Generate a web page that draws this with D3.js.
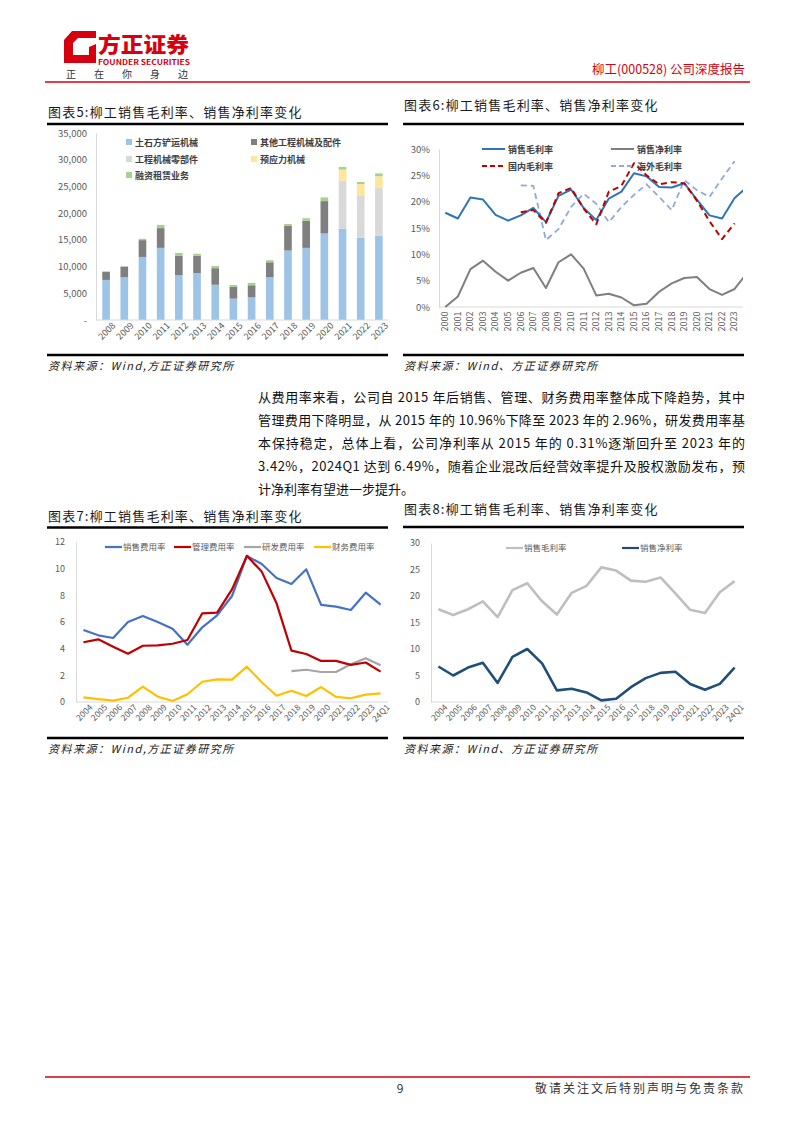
<!DOCTYPE html>
<html><head><meta charset="utf-8">
<script src="https://cdn.jsdelivr.net/npm/d3@7"></script>
<style>
body{margin:0;background:#fff;}
svg{display:block;}
text{font-family:"Noto Sans CJK SC","Noto Sans",sans-serif;}
</style></head>
<body>
<svg id="page" width="794" height="1123"></svg>
<script>
// ---------- DATA ----------
// Chart 5
const c5Years = ["2008","2009","2010","2011","2012","2013","2014","2015","2016","2017","2018","2019","2020","2021","2022","2023"];
const c5Earth   = [7500,8000,11800,13500,8400,8800,6600,4000,4250,8000,13000,13500,16200,17100,15400,15800];
const c5Other   = [1550,2000,3150,3700,3600,3200,3100,2200,2250,2800,4600,5050,6050,0,0,0];
const c5Parts   = [0,0,0,0,0,0,0,0,0,0,0,0,0,9000,7950,8900];
const c5Prestress = [0,0,0,0,0,0,0,0,0,0,0,0,0,2050,2100,2200];
const c5Lease   = [0,0,250,600,550,400,400,350,450,380,380,500,700,500,380,550];
const c5Series = ["土石方铲运机械","其他工程机械及配件","工程机械零部件","预应力机械","融资租赁业务"];
const c5Ticks = [0,5000,10000,15000,20000,25000,30000,35000];

// Chart 6
const c6Years = ["2000","2001","2002","2003","2004","2005","2006","2007","2008","2009","2010","2011","2012","2013","2014","2015","2016","2017","2018","2019","2020","2021","2022","2023","24Q1"];
const c6Gross = [17.9,16.8,20.8,20.4,17.5,16.4,17.4,18.8,16.1,21.1,22.3,18.8,16.5,20.6,21.9,25.4,24.8,22.8,22.7,23.5,20.4,17.4,16.8,20.7,22.8];
const c6Net   = [0.0,2.0,7.2,8.8,6.7,5.0,6.5,7.4,3.6,8.5,10.0,7.3,2.2,2.5,1.8,0.31,0.6,2.9,4.5,5.5,5.7,3.4,2.3,3.42,6.49];
const c6Domestic = [null,null,null,null,null,null,18.0,18.4,16.0,21.6,22.6,18.7,15.7,21.9,23.0,27.3,25.0,23.3,23.7,23.5,20.2,16.3,12.9,15.9,null];
const c6Overseas = [null,null,null,null,null,null,23.1,23.0,12.7,14.8,19.0,21.5,19.6,16.1,19.0,21.3,23.3,20.9,18.4,24.1,22.2,20.9,24.4,27.7,null];
const c6Names = ["销售毛利率","销售净利率","国内毛利率","海外毛利率"];
const c6Ticks = [0,5,10,15,20,25,30];

// Chart 7
const c7Cats = ["2004","2005","2006","2007","2008","2009","2010","2011","2012","2013","2014","2015","2016","2017","2018","2019","2020","2021","2022","2023","24Q1"];
const c7Sales = [5.4,5.0,4.8,6.0,6.45,6.0,5.5,4.3,5.6,6.5,7.95,10.95,10.35,9.3,8.85,9.95,7.28,7.15,6.9,8.2,7.3];
const c7Admin = [4.48,4.7,4.15,3.62,4.22,4.25,4.37,4.65,6.65,6.7,8.45,10.96,9.78,7.4,3.85,3.6,3.08,3.08,2.78,2.96,2.28];
const c7RD    = [null,null,null,null,null,null,null,null,null,null,null,null,null,null,2.32,2.42,2.25,2.25,2.83,3.28,2.75];
const c7Fin   = [0.35,0.22,0.1,0.32,1.15,0.4,0.08,0.58,1.52,1.7,1.68,2.65,1.48,0.47,0.85,0.45,1.12,0.38,0.28,0.55,0.65];
const c7Names = ["销售费用率","管理费用率","研发费用率","财务费用率"];
const c7Ticks = [0,2,4,6,8,10,12];

// Chart 8
const c8Cats = c7Cats;
const c8Gross = [17.5,16.4,17.5,19.0,16.0,21.1,22.4,19.0,16.5,20.6,21.9,25.4,24.8,22.9,22.7,23.5,20.5,17.4,16.8,20.7,22.8];
const c8Net   = [6.7,5.0,6.5,7.4,3.6,8.5,10.0,7.3,2.2,2.5,1.8,0.31,0.6,2.8,4.5,5.5,5.7,3.4,2.3,3.42,6.49];
const c8Names = ["销售毛利率","销售净利率"];
const c8Ticks = [0,5,10,15,20,25,30];

const paragraph = [
  "从费用率来看，公司自 2015 年后销售、管理、财务费用率整体成下降趋势，其中",
  "管理费用下降明显，从 2015 年的 10.96%下降至 2023 年的 2.96%，研发费用率基",
  "本保持稳定，总体上看，公司净利率从 2015 年的 0.31%逐渐回升至 2023 年的",
  "3.42%，2024Q1 达到 6.49%，随着企业混改后经营效率提升及股权激励发布，预",
  "计净利率有望进一步提升。"
];

// ---------- DRAW ----------
const svg = d3.select("#page");
const RED = "#D7000F";
const AX = "#595959";

// Header
svg.append("path")
  .attr("d","M64,40 L72,31 L96,31 L96,38 L78,38 L73,43 L73,55 L89,55 L89,47 L96,44 L96,63 L64,63 Z")
  .attr("fill", RED);
svg.append("text").attr("x",98).attr("y",52).attr("font-size",21).attr("font-weight",900)
  .attr("fill",RED).attr("textLength",91).attr("lengthAdjust","spacingAndGlyphs").text("方正证券");
svg.append("text").attr("x",98).attr("y",65).attr("font-size",7).attr("font-weight",700)
  .attr("fill",RED).attr("textLength",92).attr("lengthAdjust","spacingAndGlyphs").text("FOUNDER SECURITIES");
svg.append("text").attr("x",66).attr("y",78).attr("font-size",10).attr("fill","#333")
  .attr("textLength",122).attr("lengthAdjust","spacing").text("正在你身边");
svg.append("text").attr("x",745).attr("y",74).attr("font-size",12.5).attr("fill",RED)
  .attr("text-anchor","end").text("柳工(000528) 公司深度报告");
svg.append("line").attr("x1",45).attr("x2",750).attr("y1",82).attr("y2",82).attr("stroke",RED).attr("stroke-width",1.3);

// Title helper
function title(x, y, ly, x2, label){
  svg.append("text").attr("x",x).attr("y",y).attr("font-size",13).attr("fill","#1a1a1a")
    .attr("letter-spacing",1.2).text(label);
  svg.append("line").attr("x1",x-1).attr("x2",x2).attr("y1",ly).attr("y2",ly)
    .attr("stroke","#000").attr("stroke-width",2.5);
}
function source(x, y, x2, label){
  svg.append("line").attr("x1",x-1).attr("x2",x2).attr("y1",y-15).attr("y2",y-15)
    .attr("stroke","#000").attr("stroke-width",2.5);
  svg.append("text").attr("x",x).attr("y",y).attr("font-size",11).attr("font-style","italic")
    .attr("fill","#1a1a1a").attr("letter-spacing",1.5).text(label);
}

title(48,117,124,388,"图表5:柳工销售毛利率、销售净利率变化");
title(404,110,124,744,"图表6:柳工销售毛利率、销售净利率变化");
title(48,521,527.5,388,"图表7:柳工销售毛利率、销售净利率变化");
title(404,514,527,744,"图表8:柳工销售毛利率、销售净利率变化");
source(48,370,388,"资料来源：Wind,方正证券研究所");
source(404,370,744,"资料来源：Wind、方正证券研究所");
source(48,753,388,"资料来源：Wind,方正证券研究所");
source(404,753,744,"资料来源：Wind、方正证券研究所");

// ---------- Chart 5 ----------
(function(){
  const g = svg.append("g");
  const x = d3.scaleBand().domain(c5Years).range([97,388]).paddingInner(0.58).paddingOuter(0.29);
  const y = d3.scaleLinear().domain([0,35000]).range([320,133]);
  const rows = c5Years.map((yr,i)=>({year:yr, a:c5Earth[i], b:c5Other[i], c:c5Parts[i], d:c5Prestress[i], e:c5Lease[i]}));
  const keys = ["a","b","c","d","e"];
  const colors = ["#9DC3E6","#7F7F7F","#D9D9D9","#FFE699","#A9D18E"];
  const stacked = d3.stack().keys(keys)(rows);
  const ya = g.append("g").attr("transform","translate(96,0)")
    .call(d3.axisLeft(y).tickValues(c5Ticks).tickSize(0).tickPadding(9).tickFormat(d=>d===0?"-":d3.format(",")(d)));
  ya.select(".domain").attr("stroke","#D9D9D9");
  ya.selectAll("text").attr("font-size",9.5).attr("fill",AX);
  stacked.forEach((s,k)=>{
    g.append("g").selectAll("rect").data(s).join("rect")
      .attr("x",d=>x(d.data.year)).attr("width",x.bandwidth())
      .attr("y",d=>y(d[1])).attr("height",d=>Math.max(0,y(d[0])-y(d[1])))
      .attr("fill",colors[k]);
  });
  const xa = g.append("g").attr("transform","translate(0,320)")
    .call(d3.axisBottom(x).tickSize(0).tickPadding(6));
  xa.select(".domain").attr("stroke","#D9D9D9").attr("d","M96,0H388");
  xa.selectAll("text").attr("font-size",9).attr("fill",AX)
    .attr("text-anchor","end").attr("dx","0.3em").attr("dy","0.6em").attr("transform","rotate(-45)");
  const lp = [[126,142],[251,142],[126,159],[251,159],[126,175]];
  c5Series.forEach((n,i)=>{
    g.append("rect").attr("x",lp[i][0]).attr("y",lp[i][1]-3).attr("width",6).attr("height",6).attr("fill",colors[i]);
    g.append("text").attr("x",lp[i][0]+9).attr("y",lp[i][1]+3.5).attr("font-size",9).attr("font-weight",700)
      .attr("fill","#404040").text(n);
  });
})();

// ---------- Chart 6 ----------
(function(){
  const g = svg.append("g");
  const step = 12.58;
  const x = d3.scaleBand().domain(c6Years).range([439, 439 + step*c6Years.length]);
  const y = d3.scaleLinear().domain([0,30]).range([307,149]);
  svg.append("clipPath").attr("id","clip6").append("rect").attr("x",439).attr("y",140).attr("width",304).attr("height",175);
  const ya = g.append("g").attr("transform","translate(439,0)")
    .call(d3.axisLeft(y).tickValues(c6Ticks).tickSize(0).tickPadding(9).tickFormat(d=>d+"%"));
  ya.select(".domain").attr("stroke","#D9D9D9");
  ya.selectAll("text").attr("font-size",9.5).attr("fill",AX);
  const xa = g.append("g").attr("transform","translate(0,307)")
    .call(d3.axisBottom(x).tickValues(c6Years.slice(0,24)).tickSize(0).tickPadding(6));
  xa.select(".domain").attr("stroke","#D9D9D9").attr("d","M439,0H743");
  xa.selectAll("text").attr("font-size",9).attr("fill",AX)
    .attr("text-anchor","end").attr("dx","-0.5em").attr("dy","-0.35em").attr("transform","rotate(-90)");
  const cx = d=>x(d)+x.bandwidth()/2;
  const series = [
    {v:c6Overseas,c:"#8FAADC",dash:"6,4",w:1.8},
    {v:c6Net,c:"#7F7F7F",dash:null,w:2},
    {v:c6Gross,c:"#2E75B6",dash:null,w:2},
    {v:c6Domestic,c:"#C00000",dash:"6,4",w:2},
  ];
  const pl = g.append("g").attr("clip-path","url(#clip6)");
  series.forEach(s=>{
    const line = d3.line().defined(d=>d[1]!=null).x(d=>cx(d[0])).y(d=>y(d[1]));
    pl.append("path").datum(c6Years.map((yr,i)=>[yr,s.v[i]])).attr("d",line)
      .attr("fill","none").attr("stroke",s.c).attr("stroke-width",s.w)
      .attr("stroke-dasharray",s.dash).attr("stroke-linejoin","round");
  });
  const leg = [
    {n:c6Names[0],c:"#2E75B6",dash:null,x:482,y:149},
    {n:c6Names[1],c:"#7F7F7F",dash:null,x:611,y:149},
    {n:c6Names[2],c:"#C00000",dash:"5,3",x:482,y:166},
    {n:c6Names[3],c:"#8FAADC",dash:"5,3",x:611,y:166},
  ];
  leg.forEach(l=>{
    g.append("line").attr("x1",l.x).attr("x2",l.x+23).attr("y1",l.y).attr("y2",l.y)
      .attr("stroke",l.c).attr("stroke-width",2).attr("stroke-dasharray",l.dash);
    g.append("text").attr("x",l.x+26).attr("y",l.y+3.5).attr("font-size",9).attr("font-weight",700)
      .attr("fill","#404040").text(l.n);
  });
})();

// ---------- Line chart helper (charts 7, 8) ----------
function lineChart(opt){
  const g = svg.append("g");
  const x = d3.scaleBand().domain(opt.cats).range([opt.x0,opt.x1]);
  const y = d3.scaleLinear().domain([0,opt.max]).range([opt.y0,opt.y1]);
  const ya = g.append("g").attr("transform",`translate(${opt.x0},0)`)
    .call(d3.axisLeft(y).tickValues(opt.ticks).tickSize(0).tickPadding(11));
  ya.select(".domain").attr("stroke","#D9D9D9");
  ya.selectAll("text").attr("font-size",9).attr("fill",AX);
  const xa = g.append("g").attr("transform",`translate(0,${opt.y0})`)
    .call(d3.axisBottom(x).tickSize(0).tickPadding(6));
  xa.select(".domain").attr("stroke","#D9D9D9").attr("d",`M${opt.x0},0H${opt.x1}`);
  xa.selectAll("text").attr("font-size",8.5).attr("fill",AX)
    .attr("text-anchor","end").attr("dx","0.3em").attr("dy","0.6em").attr("transform","rotate(-45)");
  const cx = d=>x(d)+x.bandwidth()/2;
  opt.series.forEach(s=>{
    const line = d3.line().defined(d=>d[1]!=null).x(d=>cx(d[0])).y(d=>y(d[1]));
    g.append("path").datum(opt.cats.map((c,i)=>[c,s.v[i]])).attr("d",line)
      .attr("fill","none").attr("stroke",s.c).attr("stroke-width",s.w).attr("stroke-linejoin","round");
  });
  opt.legend.forEach(l=>{
    g.append("line").attr("x1",l.x).attr("x2",l.x+17).attr("y1",l.y).attr("y2",l.y)
      .attr("stroke",l.c).attr("stroke-width",2.2);
    g.append("text").attr("x",l.x+18).attr("y",l.y+3.2).attr("font-size",8.5)
      .attr("fill","#595959").text(l.n);
  });
}

lineChart({
  cats:c7Cats, x0:76, x1:388, y0:702, y1:542, max:12, ticks:c7Ticks,
  series:[
    {v:c7RD,c:"#A5A5A5",w:2.2},
    {v:c7Fin,c:"#FFC000",w:2.2},
    {v:c7Sales,c:"#4472C4",w:2.2},
    {v:c7Admin,c:"#C00000",w:2.2},
  ],
  legend:[
    {n:c7Names[0],c:"#4472C4",x:105,y:547},
    {n:c7Names[1],c:"#C00000",x:174,y:547},
    {n:c7Names[2],c:"#A5A5A5",x:244,y:547},
    {n:c7Names[3],c:"#FFC000",x:314,y:547},
  ]
});

lineChart({
  cats:c8Cats, x0:431, x1:742, y0:702, y1:543, max:30, ticks:c8Ticks,
  series:[
    {v:c8Gross,c:"#BFBFBF",w:2.6},
    {v:c8Net,c:"#1F4E79",w:2.6},
  ],
  legend:[
    {n:c8Names[0],c:"#BFBFBF",x:506,y:548},
    {n:c8Names[1],c:"#1F4E79",x:622,y:548},
  ]
});

// ---------- Paragraph ----------
paragraph.forEach((t,i)=>{
  const tx = svg.append("text").attr("x",258).attr("y",402 + i*23).attr("font-size",13)
    .attr("fill","#111").text(t);
  if (i < paragraph.length-1) tx.attr("textLength",487).attr("lengthAdjust","spacing");
});

// ---------- Footer ----------
svg.append("line").attr("x1",45).attr("x2",750).attr("y1",1077).attr("y2",1077).attr("stroke",RED).attr("stroke-width",1.3);
svg.append("text").attr("x",400).attr("y",1093).attr("font-size",12).attr("fill","#333").attr("text-anchor","middle").text("9");
svg.append("text").attr("x",745).attr("y",1093).attr("font-size",12).attr("fill","#333")
  .attr("text-anchor","end").attr("letter-spacing",2).text("敬请关注文后特别声明与免责条款");
</script>
</body></html>
